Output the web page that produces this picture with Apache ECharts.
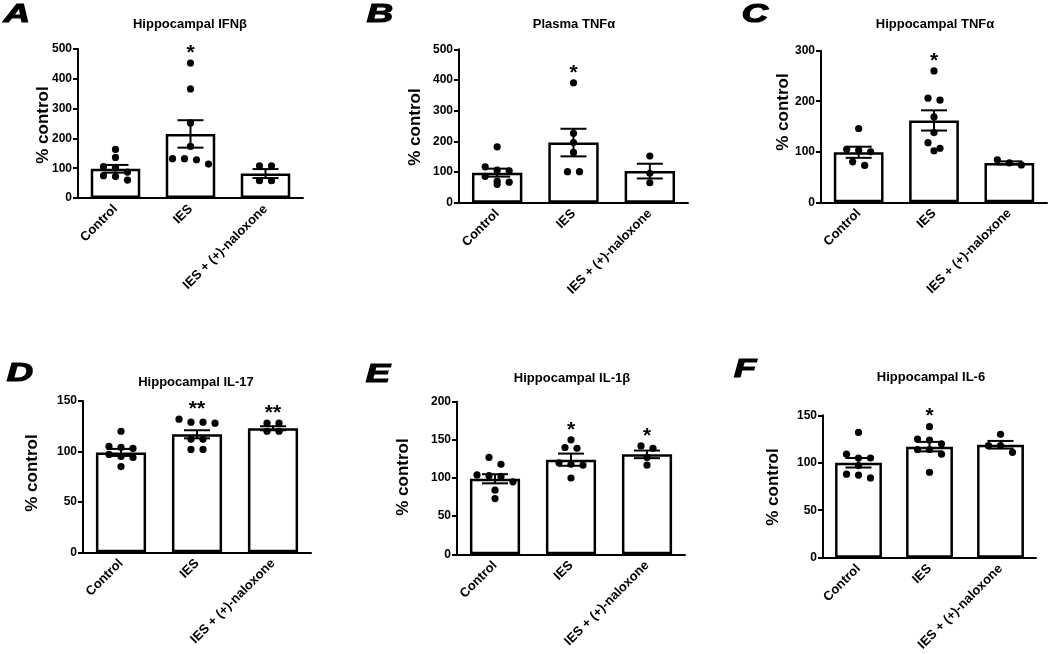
<!DOCTYPE html>
<html>
<head>
<meta charset="utf-8">
<script src="https://cdn.jsdelivr.net/npm/echarts@6/dist/echarts.min.js"></script>
<style>
html,body{margin:0;padding:0;background:#fff;}
#chart{width:1050px;height:654px;}
</style>
</head>
<body>
<div id="chart"></div>
<script>
// ---------------- DATA ----------------
const categories = ['Control', 'IES', 'IES + (+)-naloxone'];
const yName = '% control';

const letterA = 'A', titleA = 'Hippocampal IFNβ';
const meanA = [98, 215, 82];
const semA = [13, 46, 15];
const ptsA = [[163, 136, 105, 102, 87, 75, 72, 60], [453, 366, 252, 173, 132, 132, 128, 114], [108, 108, 58, 58]];
const starsA = ['', '*', ''];
const yMaxA = 500, yStepA = 100;

const letterB = 'B', titleB = 'Plasma TNFα';
const meanB = [98, 196, 103];
const semB = [13, 45, 24];
const ptsB = [[182, 117, 106, 104, 86, 70, 67, 60], [391, 226, 196, 164, 101, 101], [152, 96, 65]];
const starsB = ['', '*', ''];
const yMaxB = 500, yStepB = 100;

const letterC = 'C', titleC = 'Hippocampal TNFα';
const meanC = [99, 162, 78];
const semC = [11, 20, 3];
const ptsC = [[146, 105, 103, 100, 80, 73], [260, 206, 202, 169, 138, 118, 107, 102], [84, 78, 74]];
const starsC = ['', '*', ''];
const yMaxC = 300, yStepC = 100;

const letterD = 'D', titleD = 'Hippocampal IL-17';
const meanD = [99, 117, 123];
const semD = [3.5, 4, 2];
const ptsD = [[120, 105, 104, 103, 97, 95, 94, 85], [132, 129, 129, 128, 112, 112, 102, 102], [128, 128, 120, 120]];
const starsD = ['', '**', '**'];
const yMaxD = 150, yStepD = 50;

const letterE = 'E', titleE = 'Hippocampal IL-1β';
const meanE = [99, 124, 131];
const semE = [6, 8, 5];
const ptsE = [[127, 118, 104, 103, 102, 95, 84, 73], [150, 140, 139, 120, 118, 117, 100], [142, 139, 127, 117]];
const starsE = ['', '*', '*'];
const yMaxE = 200, yStepE = 50;

const letterF = 'F', titleF = 'Hippocampal IL-6';
const meanF = [100, 117, 119];
const semF = [5, 5, 4];
const ptsF = [[132, 109, 105, 105, 97, 88, 87, 84], [138, 125, 124, 120, 114, 114, 109, 90], [130, 118, 118, 111]];
const starsF = ['', '*', ''];
const yMaxF = 150, yStepF = 50;

// ---------------- LAYOUT (not data) ----------------
const FONT = '"Liberation Sans", Arial, Helvetica, sans-serif';
const panels = [
  {letter: letterA, title: titleA, mean: meanA, sem: semA, pts: ptsA, stars: starsA, yMax: yMaxA, yStep: yStepA,
   grid: {left: 78, top: 49, width: 225, height: 149}, titleXY: [190, 24], letterXY: [17, 14], nameXY: [43, 125]},
  {letter: letterB, title: titleB, mean: meanB, sem: semB, pts: ptsB, stars: starsB, yMax: yMaxB, yStep: yStepB,
   grid: {left: 459, top: 49.3, width: 229, height: 153.4}, titleXY: [574, 24], letterXY: [380, 14], nameXY: [415, 127]},
  {letter: letterC, title: titleC, mean: meanC, sem: semC, pts: ptsC, stars: starsC, yMax: yMaxC, yStep: yStepC,
   grid: {left: 821, top: 50.7, width: 226, height: 151.6}, titleXY: [935, 24], letterXY: [755, 14], nameXY: [783, 112]},
  {letter: letterD, title: titleD, mean: meanD, sem: semD, pts: ptsD, stars: starsD, yMax: yMaxD, yStep: yStepD,
   grid: {left: 83, top: 401, width: 228, height: 151.3}, titleXY: [196, 382], letterXY: [20, 373], nameXY: [32, 473]},
  {letter: letterE, title: titleE, mean: meanE, sem: semE, pts: ptsE, stars: starsE, yMax: yMaxE, yStep: yStepE,
   grid: {left: 457, top: 401.7, width: 228, height: 152.6}, titleXY: [572, 378], letterXY: [378, 374], nameXY: [403, 477]},
  {letter: letterF, title: titleF, mean: meanF, sem: semF, pts: ptsF, stars: starsF, yMax: yMaxF, yStep: yStepF,
   grid: {left: 823, top: 415.3, width: 213, height: 142.4}, titleXY: [931, 377], letterXY: [745, 369], nameXY: [773, 487]}
];

// Beeswarm-like row layout (pixel offsets) computed from values
function swarm(vals, pxPerUnit) {
  const diam = 7.5, step = 12;
  const idx = vals.map((v, i) => i).sort((a, b) => vals[b] - vals[a]);
  const rows = [];
  idx.forEach(i => {
    const last = rows[rows.length - 1];
    if (last && (vals[last[0]] - vals[i]) * pxPerUnit < diam) last.push(i);
    else rows.push([i]);
  });
  const off = new Array(vals.length).fill(0);
  rows.forEach(r => r.forEach((i, k) => { off[i] = (k - (r.length - 1) / 2) * step; }));
  return off;
}

const grids = [], xAxes = [], yAxes = [], series = [], graphics = [];
panels.forEach((p, gi) => {
  grids.push(Object.assign({containLabel: false}, p.grid));
  xAxes.push({
    type: 'category', gridIndex: gi, data: categories,
    axisLine: {lineStyle: {color: '#000', width: 2}},
    axisTick: {alignWithLabel: true, length: 5, lineStyle: {color: '#000', width: 2}},
    axisLabel: {rotate: 45, margin: 9, color: '#000', fontFamily: FONT, fontWeight: 'bold', fontSize: 13, interval: 0}
  });
  yAxes.push({
    type: 'value', gridIndex: gi, min: 0, max: p.yMax, interval: p.yStep,
    axisLine: {show: true, lineStyle: {color: '#000', width: 2}},
    axisTick: {show: true, length: 5, lineStyle: {color: '#000', width: 2}},
    axisLabel: {margin: 6, color: '#000', fontFamily: FONT, fontWeight: 'bold', fontSize: 12},
    splitLine: {show: false}
  });
  series.push({
    type: 'bar', xAxisIndex: gi, yAxisIndex: gi, data: p.mean, barCategoryGap: '34%',
    itemStyle: {color: '#fff', borderColor: '#000', borderWidth: 2.5}, z: 2, silent: true
  });
  // error bars
  series.push({
    type: 'custom', xAxisIndex: gi, yAxisIndex: gi, z: 4, silent: true,
    data: p.mean.map((m, i) => [i, m, p.sem[i]]),
    renderItem: (params, api) => {
      const x = api.value(0), m = api.value(1), s = api.value(2);
      const t = api.coord([x, m + s]), b = api.coord([x, m - s]);
      const hw = 13;
      const st = {stroke: '#000', lineWidth: 2};
      return {type: 'group', children: [
        {type: 'line', shape: {x1: t[0], y1: t[1], x2: b[0], y2: b[1]}, style: st},
        {type: 'line', shape: {x1: t[0] - hw, y1: t[1], x2: t[0] + hw, y2: t[1]}, style: st},
        {type: 'line', shape: {x1: b[0] - hw, y1: b[1], x2: b[0] + hw, y2: b[1]}, style: st}
      ]};
    }
  });
  // points
  const ppu = p.grid.height / p.yMax;
  const dots = [];
  p.pts.forEach((vals, ci) => {
    const off = swarm(vals, ppu);
    vals.forEach((v, k) => dots.push([ci, v, off[k]]));
  });
  series.push({
    type: 'custom', xAxisIndex: gi, yAxisIndex: gi, z: 5, silent: true, data: dots,
    renderItem: (params, api) => {
      const c = api.coord([api.value(0), api.value(1)]);
      return {type: 'circle', shape: {cx: c[0] + api.value(2), cy: c[1], r: 3.6}, style: {fill: '#000'}};
    }
  });
  // significance stars
  const starData = p.stars.map((s, i) => [i, Math.max(Math.max.apply(null, p.pts[i]), p.mean[i] + p.sem[i])]);
  series.push({
    type: 'custom', xAxisIndex: gi, yAxisIndex: gi, z: 5, silent: true, data: starData,
    renderItem: (params, api) => {
      const s = p.stars[params.dataIndex];
      if (!s) return null;
      const c = api.coord([api.value(0), api.value(1)]);
      return {type: 'text', x: c[0], y: c[1] - 10,
        style: {text: s, fill: '#000', font: 'bold 21px ' + FONT, textAlign: 'center', textVerticalAlign: 'middle'}};
    }
  });
  graphics.push({type: 'text', x: p.titleXY[0], y: p.titleXY[1], style: {text: p.title, fill: '#000', font: 'bold 13px ' + FONT, textAlign: 'center', textVerticalAlign: 'middle'}});
  graphics.push({type: 'text', x: p.letterXY[0], y: p.letterXY[1] + 1, scaleX: 1.4, style: {text: p.letter, fill: '#000', stroke: '#000', lineWidth: 1.2, font: 'italic bold 26px ' + FONT, textAlign: 'center', textVerticalAlign: 'middle'}});
  graphics.push({type: 'text', x: p.nameXY[0], y: p.nameXY[1], rotation: Math.PI / 2, style: {text: yName, fill: '#000', font: 'bold 17px ' + FONT, textAlign: 'center', textVerticalAlign: 'middle'}});
});

const chart = echarts.init(document.getElementById('chart'), null, {renderer: 'canvas'});
chart.setOption({
  animation: false,
  backgroundColor: '#fff',
  grid: grids, xAxis: xAxes, yAxis: yAxes, series: series, graphic: graphics
});
</script>
</body>
</html>
